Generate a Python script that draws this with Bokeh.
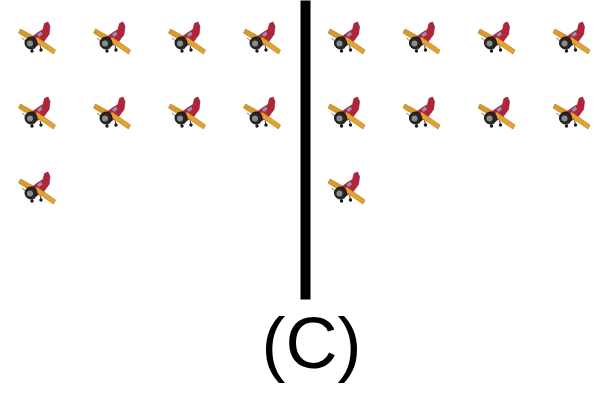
import numpy as np
from bokeh.plotting import figure
from bokeh.models import Range1d
from bokeh.core.properties import value
from bokeh.embed import file_html
from bokeh.resources import INLINE

# ---- data ----
groups = ["left", "right"]
group_counts = [9, 9]          # number of plane icons per group
icons_per_row = 4
panel_label = "(C)"

# ---- layout (picture pixel coordinates) ----
W, H = 594, 384
p = figure(width=W, height=H, output_backend="svg", toolbar_location=None,
           x_range=Range1d(0, W), y_range=Range1d(H, 0),
           min_border=0)
p.axis.visible = False
p.grid.visible = False
p.outline_line_color = None
p.background_fill_color = "white"
p.border_fill_color = "white"

group_x0 = [35.5, 345.0]
y0 = 39.0
step = 75.0

cx, cy = [], []
for g, n in enumerate(group_counts):
    for i in range(n):
        cx.append(group_x0[g] + (i % icons_per_row) * step)
        cy.append(y0 + (i // icons_per_row) * step)
cx = np.array(cx); cy = np.array(cy)

def shape(pts):
    xs = [list(x + np.array([a for a, b in pts])) for x in cx]
    ys = [list(y + np.array([b for a, b in pts])) for y in cy]
    return xs, ys

# left (rear) wing part
wing_back = [(-17.5, -6.5), (-15.5, -10.5), (-1, -2.5), (-3, 2.5)]
# fuselage + tail
body = [(-6, -1), (2, -7), (7, -10), (8.5, -16), (12, -17.5), (14, -13),
        (13, -5), (7, 3), (-1, 7)]
# front wing part
wing_front = [(-1.5, 1.5), (1, -2.5), (19.5, 10.5), (17.5, 14.5)]

xs, ys = shape(wing_back)
p.patches(xs, ys, fill_color="#D99A2B", line_color="#B07818", line_width=0.6)
xs, ys = shape(body)
p.patches(xs, ys, fill_color="#B3243A", line_color="#7E1526", line_width=0.6)
# cockpit
xs, ys = shape([(1, -5), (5, -8), (6.5, -5), (3, -2.5)])
p.patches(xs, ys, fill_color="#9A8FB0", line_color=None)
xs, ys = shape(wing_front)
p.patches(xs, ys, fill_color="#E2A332", line_color="#B07818", line_width=0.6)

# propeller
p.segment(x0=cx - 14, y0=cy - 1.5, x1=cx - 1, y1=cy + 9.5, line_color="#A8A8A8", line_width=1.3)
# engine
p.circle(x=cx - 5, y=cy + 3.5, radius=6, fill_color="#262626", line_color="#111111")
p.circle(x=cx - 6, y=cy + 4, radius=3, fill_color="#8C8C8C", line_color=None)
# wheels / struts
p.segment(x0=cx - 3, y0=cy + 7, x1=cx - 4, y1=cy + 11, line_color="#333333", line_width=1)
p.segment(x0=cx + 4, y0=cy + 6, x1=cx + 5, y1=cy + 10, line_color="#333333", line_width=1)
p.circle(x=cx - 4, y=cy + 11.5, radius=1.7, fill_color="#1a1a1a", line_color=None)
p.circle(x=cx + 5, y=cy + 10.5, radius=1.7, fill_color="#1a1a1a", line_color=None)

# divider
p.quad(left=[300], right=[310], top=[-10], bottom=[299], fill_color="black", line_color=None)

# panel label
p.text(x=[311], y=[342], text=[panel_label], text_align="center",
       text_baseline="alphabetic", text_font=value("Liberation Sans"),
       text_font_size="72px", text_color="black")

open("out.html", "w").write(file_html(p, INLINE))
